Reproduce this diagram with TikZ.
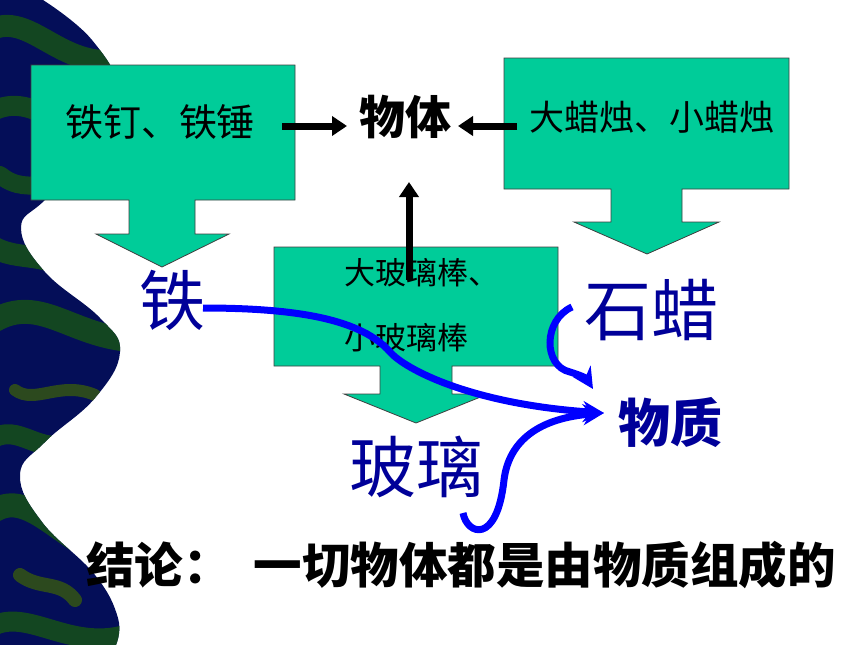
\documentclass[tikz,border=0pt]{standalone}
\usepackage{fontspec}
\newfontfamily\cjk{Noto Sans CJK SC}
\usetikzlibrary{arrows.meta}
\definecolor{boxgreen}{RGB}{0,204,153}
\definecolor{darkblue}{RGB}{0,0,153}
\definecolor{brightblue}{RGB}{0,0,255}
\definecolor{navybg}{RGB}{4,14,88}
\definecolor{greenbg}{RGB}{22,80,24}
\definecolor{olivebg}{RGB}{52,84,20}
\begin{document}
\begin{tikzpicture}[x=1pt,y=-1pt,
  callout/.style={fill=boxgreen,draw=black!75,line width=0.8pt,line join=miter},
  boxtext/.style={text=black,inner sep=0pt},
  bluetext/.style={text=darkblue,inner sep=0pt},
  blackarrow/.style={line width=7pt,-{Triangle[length=15pt,width=19pt]}},
  bluearrow/.style={draw=brightblue,line width=7pt,-{Stealth[length=21pt,width=21pt,inset=7pt]}},
  streak/.style={line width=#1,line cap=round,opacity=0.85}
]
\useasboundingbox (0,0) rectangle (860,645);
\fill[white] (0,0) rectangle (860,645);

% left textured band
\begin{scope}
\path[clip] (0,0) -- plot[smooth,tension=0.7] coordinates {(43,0) (92,40) (120,95) (100,150) (45,200) (21,228) (45,272) (100,318) (120,352) (95,398) (45,442) (20,475) (42,522) (95,575) (118,618) (116,645)} -- (0,645) -- cycle;
\fill[navybg] (0,0) rectangle (130,645);
\draw[greenbg,streak=22pt] (-10,30) .. controls (30,10) and (60,70) .. (120,60);
\draw[greenbg,streak=20pt] (-5,110) .. controls (40,90) and (70,150) .. (125,125);
\draw[greenbg,streak=18pt] (0,175) .. controls (30,200) and (60,170) .. (95,190);
\draw[greenbg,streak=22pt] (-10,245) .. controls (20,265) and (50,245) .. (85,285);
\draw[greenbg,streak=24pt] (-5,320) .. controls (40,295) and (70,335) .. (130,340);
\draw[olivebg,streak=12pt] (15,390) .. controls (35,405) and (60,380) .. (95,395);
\draw[greenbg,streak=20pt] (-10,440) .. controls (20,420) and (40,460) .. (75,440);
\draw[greenbg,streak=24pt] (-5,510) .. controls (30,490) and (60,540) .. (115,560);
\draw[olivebg,streak=14pt] (20,575) .. controls (40,590) and (60,580) .. (75,600);
\draw[greenbg,streak=20pt] (-5,625) .. controls (30,610) and (70,650) .. (125,635);
\end{scope}

% callout shapes
\path[callout] (31,65) -- (295,65) -- (295,200) -- (195,200) -- (195,234) -- (229,234) -- (162,267) -- (96,234) -- (129,234) -- (129,200) -- (31,200) -- cycle;
\path[callout] (504,58) -- (789,58) -- (789,189) -- (682,189) -- (682,222) -- (719,222) -- (647,254) -- (574,222) -- (611,222) -- (611,189) -- (504,189) -- cycle;
\path[callout] (274,247) -- (558,247) -- (558,366) -- (452,366) -- (452,394) -- (488,394) -- (416,423) -- (344,394) -- (380,394) -- (380,366) -- (274,366) -- cycle;

% box texts
\node[boxtext,font={\cjk\fontsize{38}{40}\selectfont}] (nails) at (160,122) {铁钉、铁锤};
\node[boxtext,font={\cjk\fontsize{35}{38}\selectfont}] (candles) at (652,117) {大蜡烛、小蜡烛};
\node[boxtext,font={\cjk\fontsize{31}{65}\selectfont},align=left,anchor=west] (rods) at (344,305) {大玻璃棒、\\小玻璃棒};

% central word
\node[boxtext,font={\cjk\bfseries\fontsize{46}{48}\selectfont}] (wuti) at (405,117) {物体};

% blue words
\node[bluetext,font={\cjk\fontsize{66}{68}\selectfont}] (tie) at (172,300) {铁};
\node[bluetext,font={\cjk\fontsize{67}{69}\selectfont}] (shila) at (651,310) {石蜡};
\node[bluetext,font={\cjk\fontsize{67}{69}\selectfont}] (boli) at (416,467) {玻璃};
\node[bluetext,font={\cjk\bfseries\fontsize{52}{54}\selectfont}] (wuzhi) at (670,423) {物质};

% conclusion
\node[boxtext,font={\cjk\bfseries\fontsize{48.5}{50}\selectfont},anchor=west] (concl) at (86,565) {结论：\hspace{22pt}一切物体都是由物质组成的};

% black arrows
\coordinate (nailsOut) at (282,126);
\coordinate (wutiW) at (347,126);
\coordinate (candlesOut) at (517,126);
\coordinate (wutiE) at (458,126);
\coordinate (rodsOut) at (409,280);
\coordinate (wutiS) at (409,182);
\draw[blackarrow] (nailsOut) -- (wutiW);
\draw[blackarrow] (candlesOut) -- (wutiE);
\draw[blackarrow] (rodsOut) -- (wutiS);

% blue curved arrows
\coordinate (tieE) at (203,308);
\coordinate (wuzhiW) at (604,413);
\coordinate (hookStart) at (463,513);
\coordinate (shilaW) at (572,307);
\coordinate (wuzhiNW) at (593,389);
\draw[bluearrow] (tieE) .. controls (300,308) and (362,320) .. (390,352) .. controls (405,369) and (470,404) .. (wuzhiW);
\draw[bluearrow] (hookStart) .. controls (467,535) and (497,545) .. (504,480) .. controls (509,440) and (540,418) .. (wuzhiW);
\draw[bluearrow] (shilaW) .. controls (543,320) and (543,366) .. (570,372) .. controls (580,375) and (586,378) .. (wuzhiNW);
\end{tikzpicture}
\end{document}
